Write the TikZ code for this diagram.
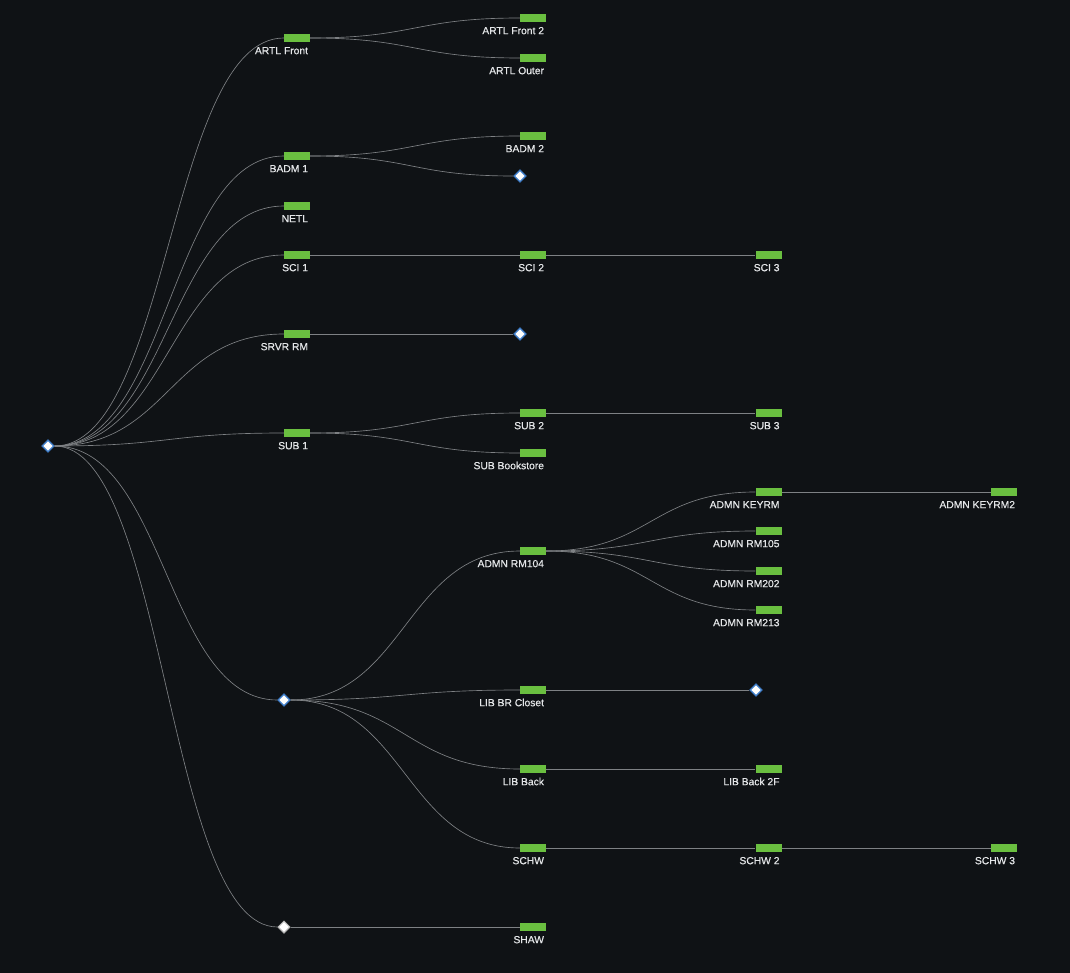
\documentclass[tikz,border=0pt]{standalone}
\usepackage{fontspec}
\setmainfont{Liberation Sans}
\newfontfamily\lblfont[FakeBold=0.6]{Liberation Sans}
\usetikzlibrary{shapes.geometric,calc}
\definecolor{bg}{HTML}{0F1215}
\definecolor{barc}{HTML}{6ABF40}
\definecolor{edgec}{HTML}{7E8184}
\definecolor{txtc}{HTML}{E4E6E8}
\definecolor{diab}{HTML}{3C7CC8}
\tikzset{
  barst/.style={rectangle, fill=barc, draw=none, minimum width=26pt, minimum height=8pt, inner sep=0pt},
  lbl/.style={text=txtc, font=\lblfont\fontsize{10.3}{12}\selectfont, inner sep=0pt, anchor=base east},
  diab/.style={diamond, fill=white, draw=diab, line width=1.3pt, minimum width=12pt, minimum height=12pt, inner sep=0pt},
  diag/.style={diamond, fill=white, draw=gray!60, line width=1pt, minimum width=12pt, minimum height=12pt, inner sep=0pt},
  edge/.style={draw=edgec, line width=0.65pt}
}
\newcommand\tbar[4]{\node[barst] (#1) at (#2,#3) {};
  \node[lbl] (#1-l) at ($(#1.south east)+(-2,12)$) {#4};}
\newcommand\lnk[2]{\draw[edge] let \p1=(#1.east), \p2=(#2.west) in (\p1) .. controls ({(\x1+\x2)/2},\y1) and ({(\x1+\x2)/2},\y2) .. (\p2);}
\begin{document}
\begin{tikzpicture}[x=1pt,y=-1pt]
\fill[bg] (0,0) rectangle (1070,973);
\useasboundingbox (0,0) rectangle (1070,973);
% column 1
\node[diab] (root) at (48,446) {};
\tbar{artl}{297}{38}{ARTL Front}
\tbar{badm1}{297}{156}{BADM 1}
\tbar{netl}{297}{206}{NETL}
\tbar{sci1}{297}{255}{SCI 1}
\tbar{srvr}{297}{334}{SRVR RM}
\tbar{sub1}{297}{433}{SUB 1}
\node[diab] (d1) at (284,700) {};
\node[diag] (d2) at (284,927) {};
% column 2
\tbar{artl2}{533}{18}{ARTL Front 2}
\tbar{artlo}{533}{58}{ARTL Outer}
\tbar{badm2}{533}{136}{BADM 2}
\node[diab] (d3) at (520,176) {};
\tbar{sci2}{533}{255}{SCI 2}
\node[diab] (d4) at (520,334) {};
\tbar{sub2}{533}{413}{SUB 2}
\tbar{subb}{533}{453}{SUB Bookstore}
\tbar{admn104}{533}{551}{ADMN RM104}
\tbar{libbr}{533}{690}{LIB BR Closet}
\tbar{libback}{533}{769}{LIB Back}
\tbar{schw}{533}{848}{SCHW}
\tbar{shaw}{533}{927}{SHAW}
% column 3
\tbar{sci3}{768.5}{255}{SCI 3}
\tbar{sub3}{768.5}{413}{SUB 3}
\tbar{keyrm}{768.5}{492}{ADMN KEYRM}
\tbar{rm105}{768.5}{531}{ADMN RM105}
\tbar{rm202}{768.5}{571}{ADMN RM202}
\tbar{rm213}{768.5}{610}{ADMN RM213}
\node[diab] (d5) at (756,690) {};
\tbar{lib2f}{768.5}{769}{LIB Back 2F}
\tbar{schw2}{768.5}{848}{SCHW 2}
% column 4
\tbar{keyrm2}{1004}{492}{ADMN KEYRM2}
\tbar{schw3}{1004}{848}{SCHW 3}
% edges
\foreach \c in {artl,badm1,netl,sci1,srvr,sub1,d1,d2} {\lnk{root}{\c}}
\lnk{artl}{artl2}\lnk{artl}{artlo}
\lnk{badm1}{badm2}\lnk{badm1}{d3}
\lnk{sci1}{sci2}\lnk{sci2}{sci3}
\lnk{srvr}{d4}
\lnk{sub1}{sub2}\lnk{sub1}{subb}\lnk{sub2}{sub3}
\foreach \c in {admn104,libbr,libback,schw} {\lnk{d1}{\c}}
\foreach \c in {keyrm,rm105,rm202,rm213} {\lnk{admn104}{\c}}
\lnk{keyrm}{keyrm2}
\lnk{libbr}{d5}
\lnk{libback}{lib2f}
\lnk{schw}{schw2}\lnk{schw2}{schw3}
\lnk{d2}{shaw}
% redraw markers on top
\foreach \n in {root,d1,d3,d4,d5} {\node[diab] at (\n) {};}
\node[diag] at (d2) {};
\foreach \n in {artl,badm1,netl,sci1,srvr,sub1,artl2,artlo,badm2,sci2,sub2,subb,admn104,libbr,libback,schw,shaw,sci3,sub3,keyrm,rm105,rm202,rm213,lib2f,schw2,keyrm2,schw3} {\node[barst] at (\n) {};}
\end{tikzpicture}
\end{document}
